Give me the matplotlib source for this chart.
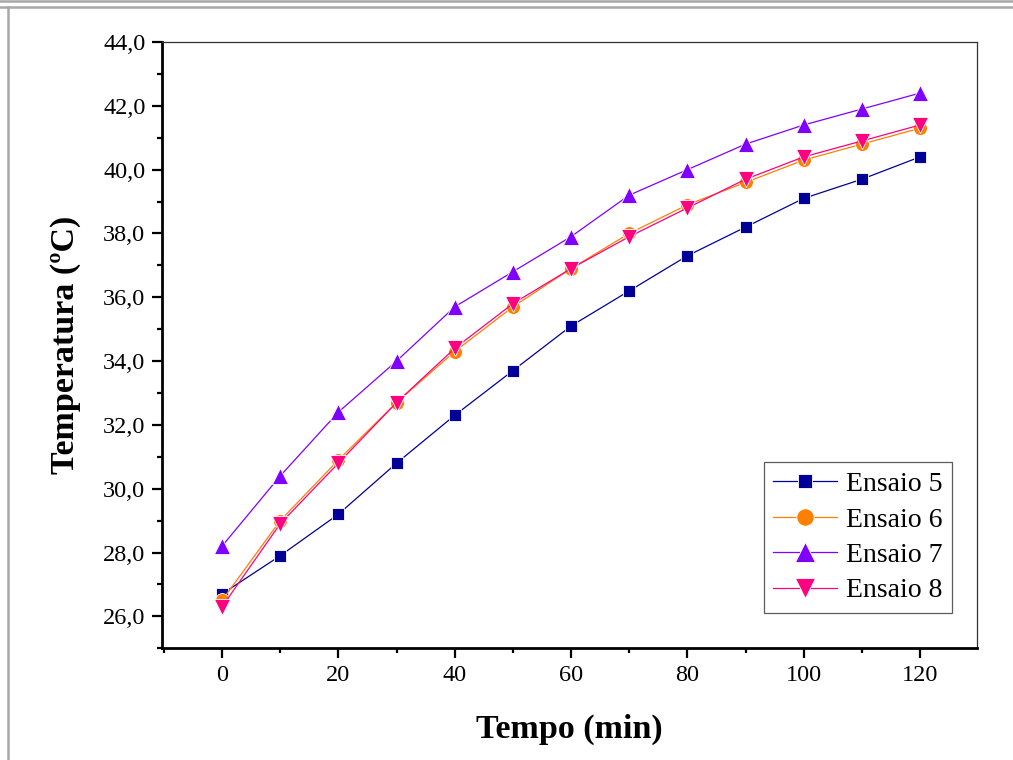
import matplotlib.pyplot as plt
from matplotlib.lines import Line2D
from matplotlib.ticker import MultipleLocator, FuncFormatter

plt.rcParams['font.family'] = ['Liberation Serif', 'DejaVu Serif']

# Data
tempo = [0, 10, 20, 30, 40, 50, 60, 70, 80, 90, 100, 110, 120]
ensaio_5 = [26.7, 27.9, 29.2, 30.8, 32.3, 33.7, 35.1, 36.2, 37.3, 38.2, 39.1, 39.7, 40.4]
ensaio_6 = [26.5, 29.0, 30.9, 32.7, 34.3, 35.7, 36.9, 38.0, 38.9, 39.6, 40.3, 40.8, 41.3]
ensaio_7 = [28.2, 30.4, 32.4, 34.0, 35.7, 36.8, 37.9, 39.2, 40.0, 40.8, 41.4, 41.9, 42.4]
ensaio_8 = [26.3, 28.9, 30.8, 32.7, 34.4, 35.8, 36.9, 37.9, 38.8, 39.7, 40.4, 40.9, 41.4]

series = [
    ('Ensaio 5', ensaio_5, '#000099', 's', 8.5),
    ('Ensaio 6', ensaio_6, '#ff8000', 'o', 10),
    ('Ensaio 7', ensaio_7, '#8000ff', '^', 11.5),
    ('Ensaio 8', ensaio_8, '#ff0080', 'v', 11.5),
]

fig = plt.figure(figsize=(10.13, 7.6), dpi=100)
ax = fig.add_axes([0.160, 0.147, 0.8045, 0.7977])

for label, values, color, marker, size in series:
    ax.plot(tempo, values, color=color, lw=0.9, marker=marker, ms=size,
            markerfacecolor=color, markeredgecolor='white', markeredgewidth=0.6,
            label=label)

ax.set_xlim(-10.3, 129.8)
ax.set_ylim(25, 44)
ax.xaxis.set_major_locator(MultipleLocator(20))
ax.xaxis.set_minor_locator(MultipleLocator(10))
ax.yaxis.set_major_locator(MultipleLocator(2))
ax.yaxis.set_minor_locator(MultipleLocator(1))
ax.yaxis.set_major_formatter(FuncFormatter(lambda v, p: f'{v:.1f}'.replace('.', ',')))

ax.tick_params(which='both', direction='out', top=False, right=False,
               width=1.6, labelsize=17.5)
ax.tick_params(which='major', length=7, pad=5)
ax.tick_params(which='minor', length=3.5)

for side in ('left', 'bottom'):
    ax.spines[side].set_linewidth(2)
for side in ('top', 'right'):
    ax.spines[side].set_linewidth(0.9)
    ax.spines[side].set_color('#333333')

ax.set_xlabel('Tempo (min)', fontsize=24.5, fontweight='bold', labelpad=20)
ax.set_ylabel('Temperatura (ºC)', fontsize=24.5, fontweight='bold', labelpad=16)

leg = ax.legend(loc='lower right', bbox_to_anchor=(0.969, 0.058), borderaxespad=0,
                fontsize=20, frameon=True, fancybox=False, edgecolor='#333333',
                handlelength=2.3, handletextpad=0.3, labelspacing=0.36,
                borderpad=0.35, markerscale=1.25)
leg.get_frame().set_linewidth(0.9)

# gray window border
gray = '#a8a8a8'
fig.add_artist(Line2D([0, 1], [0.9987, 0.9987], color=gray, lw=1.8))
fig.add_artist(Line2D([0, 1], [0.9908, 0.9908], color=gray, lw=1.8))
fig.add_artist(Line2D([0.0083, 0.0083], [0, 0.9908], color=gray, lw=1.8))

plt.savefig('out.png', dpi=100)
